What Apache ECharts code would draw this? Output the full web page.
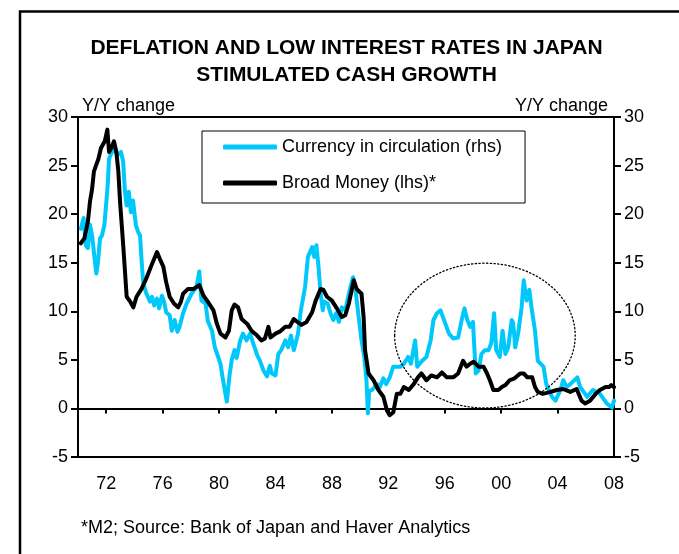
<!DOCTYPE html>
<html>
<head>
<meta charset="utf-8">
<script src="https://cdn.jsdelivr.net/npm/echarts@6/dist/echarts.min.js"></script>
<style>
  html, body { margin: 0; padding: 0; background: #fff; }
  #chart { width: 679px; height: 554px; }
</style>
</head>
<body>
<div id="chart"></div>
<script>
// Currency in circulation, Y/Y % change (right-hand scale)
const cashYears = [
  1970.2, 1970.4, 1970.55, 1970.7, 1970.85, 1971.0, 1971.15, 1971.3, 1971.42, 1971.56,
  1971.7, 1971.87, 1972.03, 1972.12, 1972.2, 1972.4, 1972.6, 1972.8, 1973.05, 1973.2,
  1973.33, 1973.45, 1973.6, 1973.75, 1973.9, 1974.1, 1974.25, 1974.4, 1974.5, 1974.62,
  1974.8, 1974.95, 1975.1, 1975.25, 1975.4, 1975.6, 1975.75, 1975.95, 1976.1, 1976.25,
  1976.5, 1976.65, 1976.85, 1977.05, 1977.2, 1977.45, 1977.7, 1978.05, 1978.4, 1978.6,
  1978.75, 1979.05, 1979.2, 1979.5, 1979.7, 1980.1, 1980.25, 1980.55, 1980.75, 1980.9,
  1981.1, 1981.25, 1981.5, 1981.7, 1981.95, 1982.2, 1982.4, 1982.7, 1982.9, 1983.15,
  1983.4, 1983.6, 1983.75, 1984.0, 1984.2, 1984.4, 1984.7, 1984.9, 1985.1, 1985.3,
  1985.6, 1985.8, 1986.1, 1986.3, 1986.6, 1986.75, 1986.9, 1987.05, 1987.2, 1987.35,
  1987.45, 1987.7, 1987.9, 1988.1, 1988.3, 1988.5, 1988.7, 1988.95, 1989.2, 1989.5,
  1989.65, 1989.9, 1990.1, 1990.3, 1990.45, 1990.55, 1990.65, 1990.85, 1991.2, 1991.4,
  1991.65, 1991.85, 1992.1, 1992.35, 1992.6, 1992.85, 1993.1, 1993.4, 1993.6, 1993.9,
  1994.05, 1994.4, 1994.7, 1995.0, 1995.2, 1995.45, 1995.7, 1995.95, 1996.3, 1996.6,
  1996.95, 1997.2, 1997.4, 1997.6, 1997.8, 1998.0, 1998.2, 1998.4, 1998.6, 1998.85,
  1999.1, 1999.3, 1999.5, 1999.65, 1999.9, 2000.1, 2000.3, 2000.5, 2000.75, 2000.85,
  2001.0, 2001.2, 2001.45, 2001.6, 2001.8, 2002.0, 2002.15, 2002.4, 2002.6, 2003.0,
  2003.2, 2003.6, 2003.85, 2004.2, 2004.4, 2004.65, 2004.9, 2005.4, 2005.6, 2006.1,
  2006.5, 2007.0, 2007.5, 2007.85, 2008.0
];
const cashGrowth = [
  18.5, 19.6, 16.8, 16.5, 18.9, 17.8, 15.8, 13.9, 15.1, 17.5,
  17.8, 18.9, 21.6, 23.3, 25.7, 26.4, 26.6, 26.1, 26.4, 25.4,
  22.3, 20.9, 22.3, 20.2, 21.4, 18.9, 18.2, 17.8, 15.4, 13.0,
  12.0, 11.5, 11.0, 11.5, 10.6, 11.3, 10.3, 11.6, 11.0, 9.9,
  9.6, 8.0, 9.1, 7.9, 8.4, 9.8, 10.8, 11.8, 12.5, 14.1,
  11.1, 10.8, 9.0, 8.0, 6.3, 4.6, 3.2, 0.7, 3.5, 5.0,
  6.0, 5.2, 7.0, 7.7, 7.0, 7.7, 6.8, 5.5, 4.9, 3.9,
  3.3, 4.4, 3.6, 3.4, 5.6, 6.0, 7.0, 6.3, 7.5, 6.0,
  7.7, 10.1, 12.5, 15.6, 16.6, 15.6, 16.8, 14.6, 11.8, 10.1,
  11.0, 10.8, 9.8, 9.1, 9.8, 8.9, 10.4, 10.1, 11.8, 13.5,
  12.5, 9.4, 7.0, 5.3, 2.9, -0.5, 1.8, 1.9, 2.5, 2.2,
  3.1, 2.5, 3.2, 4.3, 4.3, 4.3, 4.6, 5.3, 4.6, 7.0,
  4.3, 4.9, 5.3, 7.0, 9.1, 9.8, 10.1, 9.1, 7.7, 7.2,
  7.3, 9.1, 10.3, 9.1, 8.4, 8.9, 3.6, 3.9, 5.6, 6.0,
  6.0, 6.7, 9.8, 6.0, 5.3, 8.0, 5.6, 6.3, 9.1, 8.8,
  6.3, 7.7, 10.4, 13.2, 11.1, 12.2, 10.4, 8.0, 4.9, 4.3,
  2.5, 1.2, 0.8, 1.9, 2.9, 2.2, 2.5, 3.2, 2.2, 1.2,
  1.9, 1.5, 0.5, 0.1, 0.8
];

// Broad money (M2), Y/Y % change (left-hand scale)
const m2Years = [
  1970.2, 1970.45, 1970.7, 1970.85, 1971.0, 1971.13, 1971.3, 1971.45, 1971.63, 1971.75,
  1971.9, 1972.08, 1972.2, 1972.4, 1972.55, 1972.72, 1972.86, 1972.98, 1973.1, 1973.22,
  1973.33, 1973.45, 1973.7, 1973.92, 1974.15, 1974.5, 1974.85, 1975.2, 1975.6, 1975.8,
  1976.05, 1976.25, 1976.5, 1976.8, 1977.1, 1977.3, 1977.45, 1977.8, 1978.2, 1978.6,
  1978.9, 1979.2, 1979.6, 1979.85, 1980.1, 1980.45, 1980.7, 1980.9, 1981.1, 1981.35,
  1981.6, 1982.0, 1982.3, 1982.7, 1983.0, 1983.25, 1983.5, 1983.65, 1984.0, 1984.3,
  1984.7, 1985.0, 1985.3, 1985.55, 1985.85, 1986.2, 1986.6, 1986.85, 1987.2, 1987.4,
  1987.65, 1988.0, 1988.35, 1988.7, 1988.95, 1989.2, 1989.35, 1989.55, 1989.75, 1990.1,
  1990.25, 1990.35, 1990.6, 1990.95, 1991.3, 1991.65, 1991.9, 1992.1, 1992.35, 1992.6,
  1992.85, 1993.1, 1993.45, 1993.8, 1994.1, 1994.35, 1994.7, 1995.05, 1995.45, 1995.8,
  1996.15, 1996.6, 1996.95, 1997.3, 1997.55, 1997.8, 1998.05, 1998.4, 1998.75, 1999.0,
  1999.2, 1999.45, 1999.8, 2000.05, 2000.3, 2000.6, 2000.95, 2001.35, 2001.6, 2001.85,
  2002.2, 2002.4, 2002.6, 2002.95, 2003.5, 2003.95, 2004.4, 2004.9, 2005.35, 2005.7,
  2005.95, 2006.3, 2006.7, 2007.0, 2007.4, 2007.65, 2007.8, 2008.0
];
const m2Growth = [
  17.0, 17.5, 19.2, 21.3, 22.6, 24.4, 25.1, 25.7, 26.8, 26.9,
  27.5, 28.7, 26.4, 26.9, 27.5, 26.4, 24.4, 21.3, 18.9, 16.5,
  14.1, 11.5, 11.0, 10.4, 11.5, 12.3, 13.4, 14.7, 16.1, 15.4,
  14.6, 13.0, 11.5, 10.8, 10.4, 11.0, 11.8, 12.3, 12.3, 12.7,
  11.6, 11.0, 10.1, 8.7, 7.7, 7.3, 8.0, 10.1, 10.7, 10.4,
  9.2, 8.7, 8.0, 7.5, 7.0, 7.2, 8.4, 7.3, 7.7, 7.9,
  8.4, 8.4, 9.2, 8.9, 8.6, 8.9, 9.9, 11.1, 12.3, 12.2,
  11.5, 11.1, 10.3, 9.4, 9.6, 10.8, 11.8, 13.2, 12.3, 11.8,
  9.4, 6.0, 3.6, 2.9, 1.9, 1.2, -0.2, -0.7, -0.4, 1.5,
  1.5, 2.2, 1.9, 2.5, 3.2, 3.6, 2.9, 3.4, 3.2, 3.7,
  3.2, 3.2, 3.6, 4.9, 4.3, 4.6, 4.8, 4.3, 4.3, 3.6,
  2.9, 1.9, 1.9, 2.2, 2.4, 2.9, 3.1, 3.6, 3.6, 3.2,
  3.2, 2.2, 1.7, 1.5, 1.7, 1.9, 2.0, 1.7, 2.0, 0.8,
  0.5, 0.8, 1.5, 1.9, 2.2, 2.2, 2.4, 2.2
];

// Year tick positions along the time axis
const xTickYears = [1972, 1976, 1980, 1984, 1988, 1992, 1996, 2000, 2004, 2008];

const seriesNames = ['Currency in circulation (rhs)', 'Broad Money (lhs)*'];
const titleLines = ['DEFLATION AND LOW INTEREST RATES IN JAPAN', 'STIMULATED CASH GROWTH'];
const axisName = 'Y/Y change';
const footnote = '*M2; Source: Bank of Japan and Haver Analytics';

// Dotted ring marking the 1993-2004 episode, in data units
const ringCentre = [1998.85, 7.5];
const ringRadius = [6.4, 7.45];

const FONT = '"Liberation Sans", Arial, Helvetica, sans-serif';
const CYAN = '#00C8FA';
const BLACK = '#000000';

const zip = (xs, ys) => xs.map((x, i) => [x, ys[i]]);

const yAxisBase = (pos) => ({
  type: 'value',
  position: pos,
  min: -5,
  max: 30,
  interval: 5,
  name: axisName,
  nameLocation: 'end',
  nameGap: 2,
  nameTextStyle: {
    color: '#000', fontSize: 18, fontFamily: FONT,
    align: pos === 'left' ? 'left' : 'right',
    verticalAlign: 'bottom',
    padding: pos === 'left' ? [0, 0, 0, 4] : [0, 6, 0, 0]
  },
  axisLine: { show: true, onZero: false, lineStyle: { color: '#000', width: 2 } },
  axisTick: { show: true, inside: false, length: 7, lineStyle: { color: '#000', width: 2 } },
  axisLabel: { color: '#000', fontSize: 18, fontFamily: FONT, margin: 10 },
  splitLine: { show: false }
});

const chart = echarts.init(document.getElementById('chart'), null, { renderer: 'canvas' });

chart.setOption({
  animation: false,
  backgroundColor: '#fff',
  grid: {
    left: 78, right: 65, top: 117, bottom: 97,
    containLabel: false,
    outerBoundsMode: 'none',
    show: true,
    borderColor: '#000',
    borderWidth: 2,
    backgroundColor: 'transparent'
  },
  xAxis: [
    {
      // zero line with downward year ticks
      type: 'value', min: 1970, max: 2008, position: 'bottom',
      axisLine: { show: true, onZero: true, onZeroAxisIndex: 0, lineStyle: { color: '#000', width: 2 } },
      axisTick: { show: true, inside: false, length: 5, customValues: xTickYears, lineStyle: { color: '#000', width: 2 } },
      axisLabel: { show: false },
      splitLine: { show: false }
    },
    {
      // bottom edge carrying the year labels
      type: 'value', min: 1970, max: 2008, position: 'bottom',
      axisLine: { show: true, onZero: false, lineStyle: { color: '#000', width: 2 } },
      axisTick: { show: false },
      axisLabel: {
        show: true, customValues: xTickYears, margin: 18,
        color: '#000', fontSize: 18, fontFamily: FONT,
        formatter: (v) => String(Math.round(v) % 100).padStart(2, '0')
      },
      splitLine: { show: false }
    }
  ],
  yAxis: [yAxisBase('left'), yAxisBase('right')],
  legend: {
    left: 202, top: 131,
    orient: 'vertical',
    data: seriesNames.map((n) => ({ name: n, icon: 'roundRect' })),
    itemWidth: 54, itemHeight: 5, itemGap: 16, itemTextGap: 4,
    padding: [6, 23, 10, 21],
    borderColor: '#000', borderWidth: 1,
    backgroundColor: '#fff',
    textStyle: { color: '#000', fontSize: 18, fontFamily: FONT, lineHeight: 20 },
    selectedMode: false
  },
  series: [
    {
      name: seriesNames[0], type: 'line', xAxisIndex: 0, yAxisIndex: 1,
      data: zip(cashYears, cashGrowth),
      symbol: 'none', showSymbol: false, color: CYAN, z: 2,
      lineStyle: { color: CYAN, width: 4, join: 'round', cap: 'round' }
    },
    {
      name: seriesNames[1], type: 'line', xAxisIndex: 0, yAxisIndex: 0,
      data: zip(m2Years, m2Growth),
      symbol: 'none', showSymbol: false, color: BLACK, z: 3,
      lineStyle: { color: BLACK, width: 4, join: 'round', cap: 'round' }
    }
  ],
  graphic: [
    {
      id: 'frame', type: 'rect', silent: true, z: 100,
      shape: { x: 20, y: 11.5, width: 720, height: 620 },
      style: { fill: 'none', stroke: '#000', lineWidth: 2.5 }
    },
    {
      id: 'title1', type: 'text', x: 346.5, y: 48, z: 100,
      style: { text: titleLines[0], font: 'bold 21px ' + FONT, fill: '#000', align: 'center', verticalAlign: 'middle' }
    },
    {
      id: 'title2', type: 'text', x: 346.5, y: 75, z: 100,
      style: { text: titleLines[1], font: 'bold 21px ' + FONT, fill: '#000', align: 'center', verticalAlign: 'middle' }
    },
    {
      id: 'note', type: 'text', x: 81, y: 528, z: 100,
      style: { text: footnote, font: '18px ' + FONT, fill: '#000', align: 'left', verticalAlign: 'middle' }
    }
  ]
});

// Place the dotted ring from data coordinates
const c = chart.convertToPixel({ gridIndex: 0 }, ringCentre);
const e = chart.convertToPixel({ gridIndex: 0 }, [ringCentre[0] + ringRadius[0], ringCentre[1] + ringRadius[1]]);
chart.setOption({
  graphic: [{
    id: 'ring', type: 'ellipse', silent: true, z: 50,
    shape: { cx: c[0], cy: c[1], rx: Math.abs(e[0] - c[0]), ry: Math.abs(c[1] - e[1]) },
    style: { fill: 'none', stroke: '#000', lineWidth: 1.3, lineDash: [1.3, 2.4], lineCap: 'round' }
  }]
});
</script>
</body>
</html>
